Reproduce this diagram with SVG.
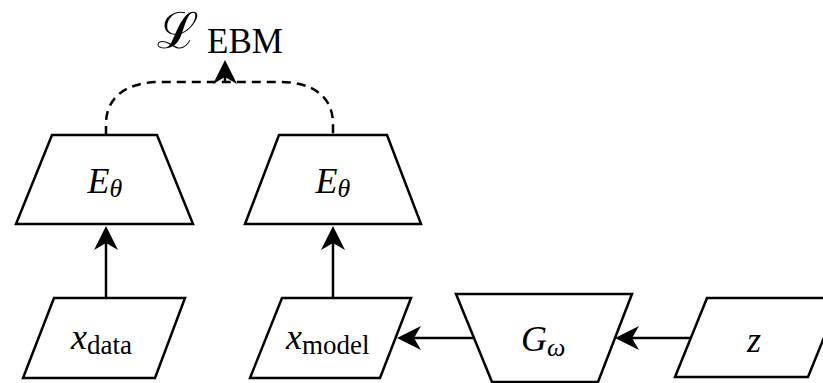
<svg xmlns="http://www.w3.org/2000/svg" width="823" height="383" viewBox="0 0 823 383">
  <defs>
    <!-- stealth-style arrowhead; refX sits behind the tip so the line end stays hidden -->
    <marker id="arrow" markerUnits="userSpaceOnUse" markerWidth="28" markerHeight="28" viewBox="0 -14 28 28" refX="17" refY="0" orient="auto" overflow="visible">
      <path d="M0,-12 L24,0 L0,12 L7,0 Z" fill="#000"/>
    </marker>
    <style>
      .shape { fill: #fff; stroke: #000; stroke-width: 2.5; stroke-linejoin: miter; }
      .edge { fill: none; stroke: #000; stroke-width: 2.5; }
      .dashed { stroke-dasharray: 9 6; }
      .math { font-family: 'Liberation Serif', 'DejaVu Serif', serif; font-style: italic; font-size: 36px; fill: #000; }
      .sub { font-family: 'Liberation Serif', 'DejaVu Serif', serif; font-style: normal; font-size: 27px; }
      .subi { font-family: 'Liberation Serif', 'DejaVu Serif', serif; font-style: italic; font-size: 26px; }
    </style>
  </defs>

  <rect width="823" height="383" fill="#fff"/>

  <!-- connectors -->
  <g id="connectors">
    <path class="edge dashed" d="M106,135 L106,124 C106,96 128,82 160,82 L280,82 C312,82 333,96 333,124 L333,135"/>
    <line class="edge" x1="225" y1="82" x2="225" y2="67" marker-end="url(#arrow)"/>
    <line class="edge" x1="106" y1="298" x2="106" y2="233" marker-end="url(#arrow)"/>
    <line class="edge" x1="333" y1="298" x2="333" y2="233" marker-end="url(#arrow)"/>
    <line class="edge" x1="474" y1="338" x2="404" y2="338" marker-end="url(#arrow)"/>
    <line class="edge" x1="691" y1="338" x2="622" y2="338" marker-end="url(#arrow)"/>
  </g>

  <!-- loss label -->
  <g id="loss">
    <text x="157" y="48" font-family="DejaVu Serif, serif" font-size="50" fill="#000">ℒ</text>
    <text x="207" y="53" font-family="Liberation Serif, serif" font-size="35" fill="#000">EBM</text>
  </g>

  <!-- energy network on data -->
  <g id="energy-data">
    <polygon class="shape" points="52,135 157,135 193,224 16,224"/>
    <text class="math" font-family="Liberation Serif, serif" x="105" y="193" text-anchor="middle">E<tspan class="subi" dy="4">θ</tspan></text>
  </g>

  <!-- energy network on samples -->
  <g id="energy-model">
    <polygon class="shape" points="279,135 387,135 421,224 245,224"/>
    <text class="math" font-family="Liberation Serif, serif" x="333" y="193" text-anchor="middle">E<tspan class="subi" dy="4">θ</tspan></text>
  </g>

  <!-- data input -->
  <g id="x-data">
    <polygon class="shape" points="54,298 185,298 155,378 23,378"/>
    <text class="math" font-family="Liberation Serif, serif" x="71" y="349">x<tspan class="sub" dy="5">data</tspan></text>
  </g>

  <!-- generated samples -->
  <g id="x-model">
    <polygon class="shape" points="282,298 411,298 380,378 250,378"/>
    <text class="math" font-family="Liberation Serif, serif" x="286" y="349">x<tspan class="sub" dy="5">model</tspan></text>
  </g>

  <!-- generator -->
  <g id="generator">
    <polygon class="shape" points="456,294 632,294 598,382 492,382"/>
    <text class="math" font-family="Liberation Serif, serif" x="521" y="351">G<tspan class="subi" dy="5">ω</tspan></text>
  </g>

  <!-- latent code -->
  <g id="latent">
    <polygon class="shape" points="707,298 840,298 808,377 675,377"/>
    <text class="math" font-family="Liberation Serif, serif" x="747" y="352">z</text>
  </g>
</svg>
